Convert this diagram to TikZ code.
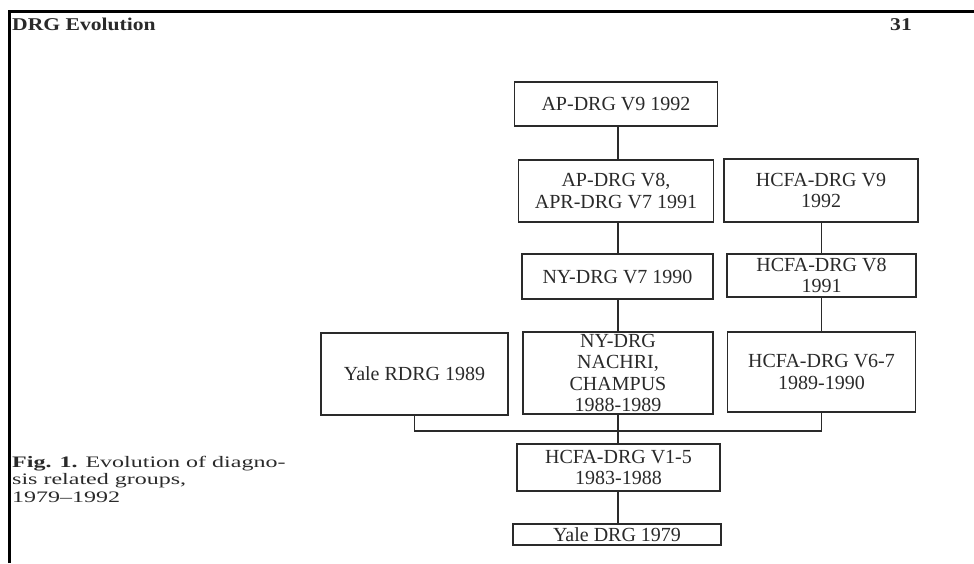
\documentclass[tikz,border=0pt]{standalone}
\usepackage{fontspec}
\setmainfont{Liberation Serif}
\newfontfamily\hdfont[FakeStretch=1.2,Ligatures=TeX]{Liberation Serif}
\newfontfamily\capfont[FakeStretch=1.5,Ligatures=TeX]{Liberation Serif}
\definecolor{ink}{HTML}{2A2A2A}
\begin{document}
\begin{tikzpicture}[x=1pt,y=-1pt,
  box/.style={draw=ink, line width=1.7pt, inner sep=0pt, rectangle},
  lbl/.style={text=ink, align=center, inner sep=0pt, font=\fontsize{20}{21.5}\selectfont},
  conn/.style={draw=ink, line width=1.5pt},
  frame/.style={draw=black, line width=3pt}]
\useasboundingbox (0,0) rectangle (974,563);
% page frame
\coordinate (fl) at (9.5,563);
\coordinate (fc) at (9.5,11.5);
\coordinate (fr) at (974,11.5);
\draw[frame] (fl) -- (fc) -- (fr);
% header and caption
\node[anchor=base west, inner sep=0pt, text=ink, font=\hdfont\fontsize{18}{20}\selectfont\bfseries] (title) at (12,30) {DRG Evolution};
\node[anchor=base west, inner sep=0pt, text=ink, font=\hdfont\fontsize{18}{20}\selectfont\bfseries] (page) at (890,30) {31};
\node[anchor=north west, inner sep=0pt, text=ink, align=left, font=\capfont\fontsize{16}{17.5}\selectfont] (cap) at (12,456)
  {\textbf{Fig. 1.} Evolution of diagno-\\sis related groups,\\1979--1992};
% boxes
\node[box, minimum width=203pt, minimum height=44pt] (ap9) at (616,104) {};
\node[box, minimum width=195pt, minimum height=62pt] (ap8) at (616,191) {};
\node[box, minimum width=194pt, minimum height=63pt] (hc9) at (821,190.5) {};
\node[box, minimum width=191pt, minimum height=45pt] (ny7) at (617.5,276.5) {};
\node[box, minimum width=189pt, minimum height=43pt] (hc8) at (821.5,275.5) {};
\node[box, minimum width=187pt, minimum height=82pt] (yrdrg) at (414.5,374) {};
\node[box, minimum width=190pt, minimum height=82pt] (nachri) at (618,373) {};
\node[box, minimum width=188pt, minimum height=80pt] (hc67) at (821.5,372) {};
\node[box, minimum width=203pt, minimum height=47pt] (hc15) at (618.5,467.5) {};
\node[box, minimum width=208pt, minimum height=21pt] (ydrg) at (617,534.5) {};
% labels
\node[lbl] (t-ap9) at (ap9) {AP-DRG V9 1992};
\node[lbl] (t-ap8) at (ap8) {AP-DRG V8,\\APR-DRG V7 1991};
\node[lbl] (t-hc9) at (hc9) {HCFA-DRG V9\\1992};
\node[lbl] (t-ny7) at (ny7) {NY-DRG V7 1990};
\node[lbl] (t-hc8) at (hc8) {HCFA-DRG V8\\1991};
\node[lbl] (t-yrdrg) at (yrdrg) {Yale RDRG 1989};
\node[lbl] (t-nachri) at (nachri) {NY-DRG\\NACHRI,\\CHAMPUS\\1988-1989};
\node[lbl] (t-hc67) at (hc67) {HCFA-DRG V6-7\\1989-1990};
\node[lbl] (t-hc15) at (hc15) {HCFA-DRG V1-5\\1983-1988};
\node[lbl] (t-ydrg) at (ydrg) {Yale DRG 1979};
% connectors
\coordinate (bus) at (0,431);
\draw[conn] (ap9.south -| nachri.center) -- (ap8.north -| nachri.center);
\draw[conn] (ap8.south -| nachri.center) -- (ny7.north -| nachri.center);
\draw[conn] (ny7.south -| nachri.center) -- (nachri.north);
\draw[conn] (hc9.south -| hc67.center) -- (hc8.north -| hc67.center);
\draw[conn] (hc8.south -| hc67.center) -- (hc67.north);
\draw[conn] (yrdrg.south) -- (yrdrg.south |- bus) -| (hc67.south);
\draw[conn] (nachri.south) -- (hc15.north -| nachri.center);
\draw[conn] (hc15.south -| nachri.center) -- (ydrg.north -| nachri.center);
\end{tikzpicture}
\end{document}
